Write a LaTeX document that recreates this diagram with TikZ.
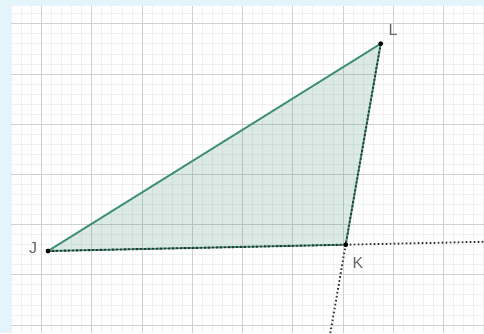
\documentclass[tikz,border=0pt]{standalone}
\usepackage{fontspec}
\setsansfont{Liberation Sans}
\usetikzlibrary{calc}
\definecolor{paneblue}{HTML}{E3F4FA}
\definecolor{gridmajor}{HTML}{D0D0D0}
\definecolor{gridminor}{HTML}{F0F0F0}
\definecolor{edgegreen}{HTML}{3F8F78}

\begin{document}
\begin{tikzpicture}[
  x=0.75pt, y=0.75pt,
  font=\sffamily,
  vtx/.style={circle, fill=black, inner sep=0pt, minimum size=3.6pt},
  lbl/.style={text=black!60, font=\sffamily\fontsize{12}{14}\selectfont, inner sep=0pt},
  side/.style={draw=edgegreen, line width=1.4pt},
  rayline/.style={draw=black!80, line width=1.4pt, dash pattern=on 1.2pt off 1.8pt}
]
% frame and sheet
\fill[paneblue] (0,0) rectangle (484,333);
\fill[white] (11,0) rectangle (484,327);
\useasboundingbox (0,0) rectangle (484,333);

\begin{scope}
\clip (11,0) rectangle (484,327);
% grid
\foreach \i in {-3,...,44}
  \draw[gridminor, line width=0.6pt] ({41.5+10.05*\i},0) -- ++(0,327);
\foreach \j in {0,...,31}
  \draw[gridminor, line width=0.6pt] (11,{8+10.04*\j}) -- ++(473,0);
\foreach \k in {0,...,8}
  \draw[gridmajor, line width=0.7pt] ({41.5+50.25*\k},0) -- ++(0,327);
\foreach \k in {0,...,6}
  \draw[gridmajor, line width=0.7pt] (11,{8+50.2*\k}) -- ++(473,0);

% triangle JKL
\coordinate (J) at (48,82);
\coordinate (K) at (345.7,88.3);
\coordinate (L) at (380.7,289.3);
\coordinate (Kright) at ($(J)!1.6!(K)$);
\coordinate (Kdown) at ($(L)!1.6!(K)$);

\fill[edgegreen, fill opacity=0.18] (J) -- (K) -- (L) -- cycle;
\draw[side] (J) -- (L);
\draw[side] (J) -- (K) -- (L);
\draw[rayline] (L) -- (K) -- (J);
\draw[rayline] (K) -- (Kright);
\draw[rayline] (K) -- (Kdown);
\end{scope}

\node[vtx] (Jdot) at (J) {};
\node[vtx] (Kdot) at (K) {};
\node[vtx] (Ldot) at (L) {};
\node[lbl] (Jname) at (33,85) {J};
\node[lbl] (Kname) at (358,70.5) {K};
\node[lbl] (Lname) at (393,303.5) {L};
\end{tikzpicture}
\end{document}
